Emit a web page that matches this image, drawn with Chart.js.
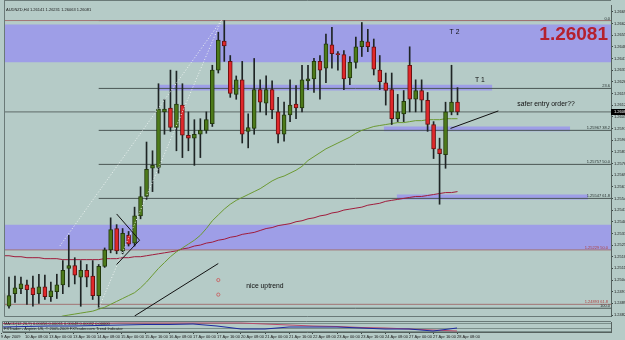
<!DOCTYPE html>
<html>
<head>
<meta charset="utf-8">
<script src="https://cdn.jsdelivr.net/npm/chart.js@4.4.1/dist/chart.umd.min.js"></script>
<style>
html, body { margin: 0; padding: 0; background: #b5cbc7; }
#wrap { position: relative; width: 625px; height: 340px; overflow: hidden; }
#main { position: absolute; left: 0; top: 0; }
#ind { position: absolute; left: 0; top: 321px; }
</style>
</head>
<body>
<div id="wrap">
  <canvas id="main" width="625" height="321"></canvas>
  <canvas id="ind" width="625" height="19"></canvas>
</div>
<script>
// AUDNZD H4, one entry per bar (bar 0 = 9 Apr 2009 16:00)
const symbol = 'AUDNZD,H4';

const opens = [
  1.24959, 1.24881, 1.24959, 1.24989, 1.25013, 1.24995, 1.24959, 1.25001, 1.24941, 1.24971,
  1.25013, 1.25115, 1.25133, 1.25061, 1.25103, 1.25067, 1.24947, 1.25127, 1.25229, 1.25361,
  1.25223, 1.25319, 1.25271, 1.25439, 1.25559, 1.25733, 1.25739, 1.26081, 1.26105, 1.25985,
  1.26123, 1.25937, 1.25919, 1.25943, 1.25967, 1.26009, 1.26339, 1.26519, 1.26393, 1.26189,
  1.26279, 1.25961, 1.25979, 1.26219, 1.26135, 1.26219, 1.26081, 1.25943, 1.26063, 1.26129,
  1.26105, 1.26273, 1.26285, 1.26393, 1.26351, 1.26495, 1.26441, 1.26435, 1.26291, 1.26387,
  1.26483, 1.26513, 1.26483, 1.26339, 1.26261, 1.26219, 1.26039, 1.26069, 1.26369, 1.26159,
  1.26213, 1.26153, 1.26003, 1.25853, 1.25817, 1.26081, 1.26141
];
const highs = [
  1.25001, 1.25061, 1.25067, 1.25061, 1.25043, 1.25067, 1.25079, 1.25073, 1.25031, 1.25079,
  1.25163, 1.25319, 1.25181, 1.25163, 1.25139, 1.25163, 1.25139, 1.25241, 1.25427, 1.25385,
  1.25361, 1.25343, 1.25493, 1.25619, 1.25895, 1.25841, 1.26255, 1.26159, 1.26339, 1.26333,
  1.26255, 1.26081, 1.26033, 1.26039, 1.26081, 1.26369, 1.26573, 1.26645, 1.26429, 1.26303,
  1.26393, 1.26069, 1.26411, 1.26279, 1.26303, 1.26273, 1.26171, 1.26141, 1.26279, 1.26243,
  1.26369, 1.26369, 1.26411, 1.26429, 1.26561, 1.26603, 1.26453, 1.26459, 1.26423, 1.26543,
  1.26633, 1.26591, 1.26531, 1.26429, 1.26321, 1.26321, 1.26189, 1.26213, 1.26483, 1.26279,
  1.26279, 1.26201, 1.26021, 1.25919, 1.26141, 1.26369, 1.26231
];
const lows = [
  1.24833, 1.24869, 1.24905, 1.24959, 1.24893, 1.24881, 1.24899, 1.24923, 1.24911, 1.24929,
  1.24959, 1.25001, 1.25019, 1.24881, 1.25001, 1.24923, 1.24869, 1.25121, 1.25211, 1.25205,
  1.25205, 1.25253, 1.25253, 1.25421, 1.25541, 1.25589, 1.25703, 1.25943, 1.25961, 1.25841,
  1.25799, 1.25841, 1.25751, 1.25799, 1.25949, 1.25991, 1.26321, 1.26393, 1.26171, 1.26159,
  1.25889, 1.25859, 1.25943, 1.26081, 1.26063, 1.26039, 1.25889, 1.25901, 1.26021, 1.26039,
  1.26081, 1.26219, 1.26201, 1.26159, 1.26261, 1.26351, 1.26339, 1.26219, 1.26249, 1.26351,
  1.26423, 1.26453, 1.26309, 1.26219, 1.26123, 1.26003, 1.26021, 1.26021, 1.26081, 1.26081,
  1.26081, 1.25961, 1.25793, 1.25511, 1.25733, 1.26063, 1.26063
];
const closes = [
  1.24881, 1.24947, 1.24995, 1.25019, 1.24983, 1.24953, 1.25001, 1.24941, 1.24977, 1.25013,
  1.25103, 1.25133, 1.25073, 1.25103, 1.25061, 1.24947, 1.25127, 1.25229, 1.25355, 1.25223,
  1.25331, 1.25265, 1.25439, 1.25559, 1.25727, 1.25751, 1.26099, 1.26099, 1.25985, 1.26129,
  1.25937, 1.25919, 1.25943, 1.25967, 1.26033, 1.26339, 1.26525, 1.26489, 1.26195, 1.26279,
  1.25943, 1.25985, 1.26219, 1.26141, 1.26219, 1.26093, 1.25943, 1.26063, 1.26123, 1.26105,
  1.26279, 1.26285, 1.26393, 1.26339, 1.26501, 1.26441, 1.26435, 1.26285, 1.26387, 1.26483,
  1.26519, 1.26483, 1.26345, 1.26267, 1.26213, 1.26039, 1.26081, 1.26147, 1.26159, 1.26213,
  1.26153, 1.26003, 1.25853, 1.25823, 1.26081, 1.26141, 1.26081
];

// moving averages (green = fast, red = slow)
const maFast = [
  null, null, null, null, null, null, null, null, null, 1.24809,
  1.24821, 1.24827, 1.24833, 1.24839, 1.24845, 1.24851, 1.24863, 1.24875, 1.24893, 1.24911,
  1.24929, 1.24947, 1.24965, 1.24995, 1.25031, 1.25073, 1.25115, 1.25151, 1.25187, 1.25217,
  1.25241, 1.25265, 1.25289, 1.25319, 1.25361, 1.25409, 1.25445, 1.25481, 1.25511, 1.25535,
  1.25553, 1.25571, 1.25589, 1.25607, 1.25631, 1.25655, 1.25673, 1.25685, 1.25703, 1.25721,
  1.25745, 1.25781, 1.25805, 1.25829, 1.25853, 1.25871, 1.25889, 1.25907, 1.25925, 1.25949,
  1.25967, 1.25979, 1.25991, 1.25997, 1.26003, 1.26009, 1.26015, 1.26015, 1.26021, 1.26027,
  1.26027, 1.26033, 1.26033, 1.26033, 1.26039, 1.26039, 1.26039
];
const maSlow = [
  1.25193, 1.25193, 1.25187, 1.25187, 1.25181, 1.25181, 1.25181, 1.25175, 1.25175, 1.25175,
  1.25169, 1.25169, 1.25169, 1.25169, 1.25169, 1.25169, 1.25169, 1.25175, 1.25175, 1.25175,
  1.25181, 1.25181, 1.25187, 1.25187, 1.25193, 1.25199, 1.25205, 1.25211, 1.25217, 1.25223,
  1.25235, 1.25241, 1.25253, 1.25259, 1.25271, 1.25277, 1.25289, 1.25295, 1.25307, 1.25313,
  1.25325, 1.25331, 1.25337, 1.25349, 1.25361, 1.25367, 1.25379, 1.25385, 1.25391, 1.25403,
  1.25409, 1.25421, 1.25427, 1.25439, 1.25445, 1.25457, 1.25463, 1.25475, 1.25481, 1.25487,
  1.25493, 1.25505, 1.25511, 1.25517, 1.25529, 1.25535, 1.25541, 1.25547, 1.25553, 1.25559,
  1.25559, 1.25565, 1.25571, 1.25577, 1.25583, 1.25583, 1.25589
];

const priceTicks = [
  1.26699, 1.26627, 1.26555, 1.26483, 1.26411, 1.26339, 1.26267, 1.26195, 1.26123, 1.26051,
  1.25979, 1.25907, 1.25835, 1.25763, 1.25691, 1.25619, 1.25547, 1.25475, 1.25403, 1.25331,
  1.25259, 1.25187, 1.25115, 1.25043, 1.24971, 1.24899, 1.24827
];
const timeLabels = [
  '9 Apr 2009', '10 Apr 08:00', '13 Apr 00:00', '13 Apr 16:00', '14 Apr 08:00',
  '15 Apr 00:00', '15 Apr 16:00', '16 Apr 08:00', '17 Apr 00:00', '17 Apr 16:00',
  '20 Apr 08:00', '21 Apr 00:00', '21 Apr 16:00', '22 Apr 08:00', '23 Apr 00:00',
  '23 Apr 16:00', '24 Apr 08:00', '27 Apr 00:00', '27 Apr 16:00', '28 Apr 08:00'
];

// fibonacci levels (drawn from bar 16 to the right)
const fibPrices = [1.26645, 1.26226, 1.25967, 1.25757, 1.25547, 1.24869];
const fibLabels = ['0.0', '23.6', '1.25967 38.2', '1.25757 50.0', '1.25547 61.8', '100.0'];
// second (red) level set, full width
const redPrices = [1.26645, 1.25229, 1.24893];
const redLabels = ['', '1.25229 50.0', '1.24893 61.8'];

// shaded zones: bar range and price range
const zoneFrom = [-5, 26, 63.67, 65.83, -5];
const zoneTo = [120, 81.83, 94.83, 97.83, 120];
const zoneTop = [1.26621, 1.26249, 1.25991, 1.25571, 1.25385];
const zoneBottom = [1.26387, 1.26213, 1.25961, 1.25541, 1.25229];

// drawn trend lines (bar, price) -> (bar, price)
const trendX1 = [22, 74.83, 19, 22.83];
const trendY1 = [1.24821, 1.25979, 1.25451, 1.25289];
const trendX2 = [36, 82.83, 22.83, 19];
const trendY2 = [1.25145, 1.26087, 1.25289, 1.25139];
const dotX1 = [9.5, 16];
const dotY1 = [1.25253, 1.24869];
const dotX2 = [36.5, 36.5];
const dotY2 = [1.26645, 1.26645];

const markerBars = [36, 36];
const markerPrices = [1.25043, 1.24953];

const noteText = ['T 2', 'T 1', 'safer entry order??', 'nice uptrend'];
const noteBar = [75.5, 79.75, 86, 40.67];
const notePrice = [1.26573, 1.26276, 1.26129, 1.25007];

// lower indicator window, one reading every 4 bars
const indBars = [0, 4, 8, 12, 16, 20, 24, 28, 32, 36, 40, 44, 48, 52, 56, 60, 64, 68, 72, 76];
const indBlue = [5, 5.5, 6, 6, 6.5, 7, 7.5, 7.5, 8, 6, 3, 3, 5, 5, 5, 4, 3, 3, 1, 4];
const indRed = [8.5, 8.5, 8.5, 8.5, 8.5, 9, 9, 9, 9, 9, 9, 8, 7, 6, 5.5, 4.5, 4, 3, 2, 1];

const bgColor = '#b5cbc7';
const zoneColor = '#9e9ee7';
const FONT = '"Liberation Sans", Arial, sans-serif';
Chart.defaults.font.family = FONT;

const last = closes.length - 1;
const lastClose = closes[last];
const title = symbol + ' ' + [opens[last], highs[last], lows[last], closes[last]].map(v => v.toFixed(5)).join(' ');

const xMin = 1 / 3;
const xMax = 1 / 3 + 608 / 6;

function seg(x1, y1, x2, y2, color, extra) {
  return Object.assign({
    type: 'line',
    data: [{ x: x1, y: y1 }, { x: x2, y: y2 }],
    borderColor: color, borderWidth: 1, pointRadius: 0, fill: false
  }, extra || {});
}

const datasets = [];

zoneTop.forEach((t, k) => {
  datasets.push(seg(zoneFrom[k], t, zoneTo[k], t, 'rgba(0,0,0,0)',
    { backgroundColor: zoneColor, fill: '+1', order: 10 }));
  datasets.push(seg(zoneFrom[k], zoneBottom[k], zoneTo[k], zoneBottom[k], 'rgba(0,0,0,0)',
    { order: 10 }));
});

redPrices.forEach(p => datasets.push(seg(-5, p, 120, p, '#a27474', { order: 9 })));
fibPrices.forEach(p => datasets.push(seg(16, p, 120, p, '#4a5654', { order: 9 })));
datasets.push(seg(-5, lastClose, 120, lastClose, '#5e6a68', { order: 9 }));

datasets.push({
  type: 'line', order: 7, borderColor: '#6c9a32', borderWidth: 1, pointRadius: 0,
  data: maFast.map((v, i) => ({ x: i, y: v }))
});
datasets.push({
  type: 'line', order: 7, borderColor: '#a01c3c', borderWidth: 1, pointRadius: 0,
  data: maSlow.map((v, i) => ({ x: i, y: v }))
});

const isUp = i => closes[i] >= opens[i];
datasets.push({
  type: 'bar', order: 5, grouped: false, barThickness: 1,
  backgroundColor: '#1e2424',
  data: opens.map((o, i) => ({ x: i, y: [lows[i], highs[i]] }))
});
datasets.push({
  type: 'bar', order: 4, grouped: false, barThickness: 4,
  borderWidth: 1, borderSkipped: false,
  backgroundColor: c => isUp(c.dataIndex) ? '#4d7a1a' : '#e0282a',
  borderColor: c => isUp(c.dataIndex) ? '#233a0c' : '#6a1010',
  data: opens.map((o, i) => ({ x: i, y: [o, closes[i]] }))
});

trendX1.forEach((x1, k) => datasets.push(seg(x1, trendY1[k], trendX2[k], trendY2[k], '#111111', { order: 3 })));
dotX1.forEach((x1, k) => datasets.push(seg(x1, dotY1[k], dotX2[k], dotY2[k], '#eef4f2', { order: 3, borderDash: [1, 2] })));

datasets.push({
  type: 'line', order: 2, showLine: false,
  pointRadius: 1.6, pointBorderWidth: 1, pointBorderColor: '#c86a6a', pointBackgroundColor: 'rgba(0,0,0,0)',
  data: markerBars.map((b, k) => ({ x: b, y: markerPrices[k] }))
});

const noteAlign = ['center', 'center', 'left', 'left'];

const mtPlugin = {
  id: 'mt',
  beforeDraw(chart) {
    const ctx = chart.ctx;
    ctx.save();
    ctx.fillStyle = bgColor;
    ctx.fillRect(0, 0, chart.width, chart.height);
    ctx.restore();
  },
  afterDatasetsDraw(chart) {
    const { ctx, chartArea: a } = chart;
    const x = chart.scales.x, y = chart.scales.y;
    ctx.save();
    ctx.font = '4px ' + FONT;
    ctx.textAlign = 'right';
    ctx.textBaseline = 'alphabetic';
    ctx.fillStyle = '#26302e';
    fibPrices.forEach((p, k) => ctx.fillText(fibLabels[k], a.right - 1, y.getPixelForValue(p) - 1));
    ctx.fillStyle = '#b04040';
    redPrices.forEach((p, k) => ctx.fillText(redLabels[k], a.right - 3, y.getPixelForValue(p) - 1));

    ctx.font = '6.8px ' + FONT;
    ctx.fillStyle = '#101010';
    ctx.textBaseline = 'middle';
    noteText.forEach((t, k) => {
      ctx.textAlign = noteAlign[k];
      ctx.fillText(t, x.getPixelForValue(noteBar[k]), y.getPixelForValue(notePrice[k]));
    });

    ctx.font = 'bold 19px ' + FONT;
    ctx.fillStyle = '#b5202e';
    ctx.textAlign = 'right';
    ctx.textBaseline = 'alphabetic';
    ctx.fillText(lastClose.toFixed(5), a.right - 3, a.top + 35);

    ctx.font = '4px ' + FONT;
    ctx.fillStyle = '#1a1a1a';
    ctx.textAlign = 'left';
    ctx.fillText(title, a.left + 1, a.top + 6);
    ctx.restore();
  },
  afterDraw(chart) {
    const { ctx, chartArea: a } = chart;
    const y = chart.scales.y;
    ctx.save();
    ctx.strokeStyle = '#6a7a78';
    ctx.lineWidth = 1;
    ctx.beginPath();
    ctx.moveTo(a.left - 0.5, 0);
    ctx.lineTo(a.left - 0.5, a.bottom + 0.5);
    ctx.lineTo(a.right, a.bottom + 0.5);
    ctx.moveTo(a.left - 0.5, 0.5);
    ctx.lineTo(a.right, 0.5);
    ctx.stroke();

    const py = Math.round(y.getPixelForValue(lastClose));
    ctx.fillStyle = '#000000';
    ctx.fillRect(a.right, py - 3, chart.width - a.right, 6);
    ctx.fillStyle = '#ffffff';
    ctx.font = '4px ' + FONT;
    ctx.textBaseline = 'middle';
    ctx.fillText(lastClose.toFixed(5), a.right + 3, py);
    ctx.restore();
  }
};

new Chart(document.getElementById('main'), {
  type: 'bar',
  data: { datasets: datasets },
  options: {
    responsive: false,
    animation: false,
    events: [],
    layout: { padding: { left: 3, right: 0, top: 0, bottom: 1 } },
    plugins: { legend: { display: false }, tooltip: { enabled: false } },
    scales: {
      x: { type: 'linear', display: false, min: xMin, max: xMax, offset: false },
      y: {
        type: 'linear', position: 'right',
        min: 1.24821, max: 1.26741,
        grid: { drawOnChartArea: false, drawTicks: true, tickLength: 2, color: '#3a4644' },
        border: { display: true, color: '#56625f', width: 1 },
        ticks: {
          autoSkip: false, padding: 1, color: '#1a1a1a',
          font: { size: 4 },
          callback: v => v.toFixed(5)
        },
        afterBuildTicks: s => { s.ticks = priceTicks.map(v => ({ value: v })); },
        afterFit: s => { s.width = 14; s.paddingTop = 0; s.paddingBottom = 0; }
      }
    }
  },
  plugins: [mtPlugin]
});

// indicator sub-window with the time axis
const indPlugin = {
  id: 'ind',
  beforeDraw(chart) {
    const ctx = chart.ctx;
    ctx.save();
    ctx.fillStyle = bgColor;
    ctx.fillRect(0, 0, chart.width, chart.height);
    ctx.restore();
  },
  afterDraw(chart) {
    const { ctx, chartArea: a } = chart;
    ctx.save();
    ctx.strokeStyle = '#6a7a78';
    ctx.lineWidth = 1;
    ctx.beginPath();
    ctx.moveTo(a.left - 0.5, a.top - 0.5);
    ctx.lineTo(a.right, a.top - 0.5);
    ctx.moveTo(a.left - 0.5, a.top - 0.5);
    ctx.lineTo(a.left - 0.5, a.bottom + 0.5);
    ctx.stroke();
    ctx.font = '4px ' + FONT;
    ctx.fillStyle = '#1a1a1a';
    ctx.textBaseline = 'alphabetic';
    ctx.fillText('MACD(12,26,9) 0.00056 0.00061 0.00048 0.00032 0.00000', a.left + 1, a.top + 3);
    ctx.fillText('FXTrader - Aspirin US, \u00a9 2005-2009 FXTrader.com Trend Indicator', a.left + 1, a.top + 8);
    ctx.restore();
  }
};

new Chart(document.getElementById('ind'), {
  type: 'line',
  data: {
    datasets: [
      { data: indBars.map((b, k) => ({ x: b, y: indBlue[k] })), borderColor: '#1e2aa0', borderWidth: 1, pointRadius: 0 },
      { data: indBars.map((b, k) => ({ x: b, y: indRed[k] })), borderColor: '#b84a6a', borderWidth: 1, pointRadius: 0 }
    ]
  },
  options: {
    responsive: false,
    animation: false,
    events: [],
    layout: { padding: { left: 3, right: 0, top: 1, bottom: 0 } },
    plugins: { legend: { display: false }, tooltip: { enabled: false } },
    scales: {
      x: {
        type: 'linear', min: xMin, max: xMax, offset: false,
        grid: { drawOnChartArea: false, tickLength: 2, color: '#3a4644' },
        border: { display: true, color: '#56625f' },
        ticks: {
          autoSkip: false, maxRotation: 0, align: 'start', padding: 0,
          color: '#1a1a1a', font: { size: 4 },
          callback: (v, i) => timeLabels[i]
        },
        afterBuildTicks: s => { s.ticks = timeLabels.map((t, k) => ({ value: k * 4 })); },
        afterFit: s => { s.height = 8; s.paddingLeft = 0; s.paddingRight = 0; }
      },
      y: {
        type: 'linear', position: 'right', min: 0, max: 10,
        grid: { drawTicks: false, color: '#7b8f8b' },
        border: { display: true, color: '#56625f', dash: [] },
        ticks: { display: false },
        afterBuildTicks: s => { s.ticks = [1, 4, 8].map(v => ({ value: v })); },
        afterFit: s => { s.width = 14; s.paddingTop = 0; s.paddingBottom = 0; }
      }
    }
  },
  plugins: [indPlugin]
});
</script>
</body>
</html>
